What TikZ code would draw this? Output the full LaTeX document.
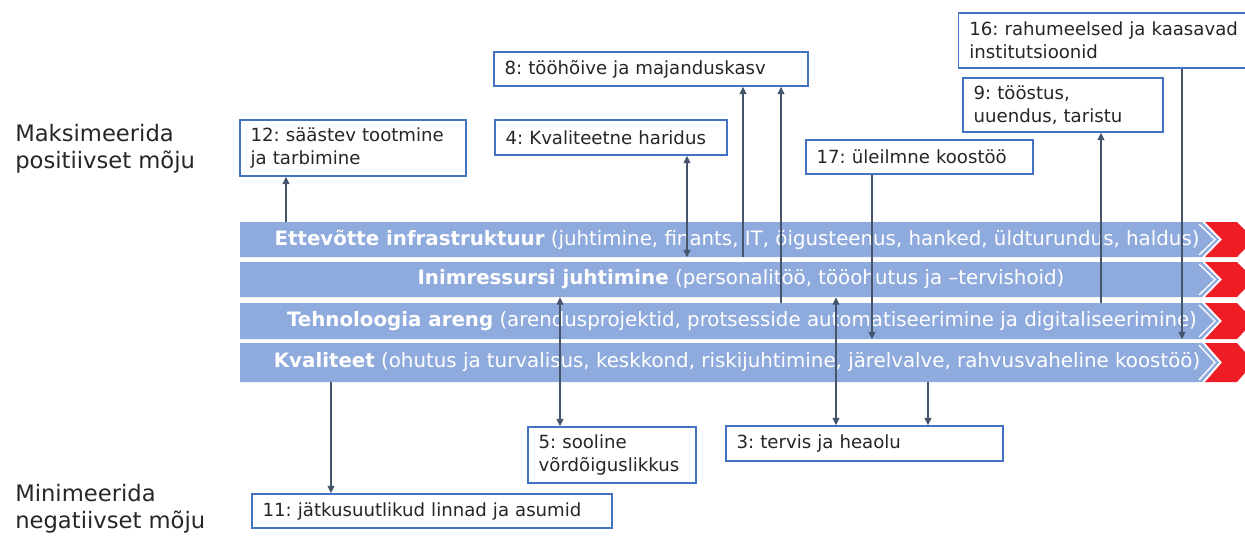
\documentclass[tikz,border=0pt]{standalone}
\usepackage{fontspec}
\setmainfont{DejaVu Sans}
\usetikzlibrary{arrows.meta}
\definecolor{barblue}{HTML}{8FAADC}
\definecolor{chevred}{HTML}{EE1C25}
\definecolor{boxblue}{HTML}{4472C4}
\definecolor{arrowgray}{HTML}{44546A}
\definecolor{textgray}{HTML}{262626}
\frenchspacing
\tikzset{
  goalbox/.style={draw=boxblue, line width=1.1pt, fill=white, text=textgray,
    inner xsep=8pt, inner ysep=0pt, align=left, anchor=center,
    font=\fontsize{13.6}{17}\selectfont},
  bartext/.style={inner sep=0pt, text=white, minimum height=#1,
    font=\fontsize{14.85}{17}\selectfont},
  sidelabel/.style={anchor=west, align=left, inner sep=0pt, text=textgray,
    font=\fontsize{17}{20}\selectfont},
  link/.style={draw=arrowgray, line width=1.1pt, -{Triangle[length=5.5pt,width=5pt]}},
  twoway/.style={draw=arrowgray, line width=1.1pt, {Triangle[length=5.5pt,width=5pt]}-{Triangle[length=5.5pt,width=5pt]}}
}
% one value-chain bar: top, bottom (px)
\newcommand{\chainbar}[2]{%
  \fill[barblue] (240,#1) -- (1202,#1) -- (1219,{(#1+#2)/2}) -- (1202,#2) -- (240,#2) -- cycle;
  \fill[chevred] (1205,#1) -- (1237,#1) -- (1254,{(#1+#2)/2}) -- (1237,#2) -- (1205,#2) -- (1222,{(#1+#2)/2}) -- cycle;
  \draw[white, line width=1pt] (1199,#1+2) -- (1215,{(#1+#2)/2}) -- (1199,#2-2);
}
\begin{document}
\begin{tikzpicture}[x=0.75pt,y=-0.75pt]
\useasboundingbox (0,0) rectangle (1245,536);
\begin{scope}
\clip (0,0) rectangle (1245,536);

% value-chain bars
\chainbar{222}{257}
\chainbar{262}{297}
\chainbar{303}{339}
\chainbar{343}{382}
\end{scope}

\node[bartext=26.25pt] (bar1) at (737,239.5) {\textbf{Ettevõtte infrastruktuur} (juhtimine, finants, IT, õigusteenus, hanked, üldturundus, haldus)};
\node[bartext=26.25pt] (bar2) at (741,279.5) {\textbf{Inimressursi juhtimine} (personalitöö, tööohutus ja –tervishoid)};
\node[bartext=27pt] (bar3) at (742,321) {\textbf{Tehnoloogia areng} (arendusprojektid, protsesside automatiseerimine ja digitaliseerimine)};
\node[bartext=29.25pt] (bar4) at (737,362.5) {\textbf{Kvaliteet} (ohutus ja turvalisus, keskkond, riskijuhtimine, järelvalve, rahvusvaheline koostöö)};

% side labels
\node[sidelabel] (maxlab) at (15,149) {Maksimeerida\\positiivset mõju};
\node[sidelabel] (minlab) at (15,509) {Minimeerida\\negatiivset mõju};

% goal boxes
\node[goalbox, text width=153.5pt, minimum height=42pt] (g12) at (353,148) {12: säästev tootmine\\ja tarbimine};
\node[goalbox, text width=158pt, minimum height=26.25pt] (g4) at (611,137.5) {4: Kvaliteetne haridus};
\node[goalbox, text width=219.5pt, minimum height=25.5pt] (g8) at (651,69) {8: tööhõive ja majanduskasv};
\node[goalbox, text width=154.25pt, minimum height=25.5pt] (g17) at (919.5,157) {17: üleilmne koostöö};
\node[goalbox, anchor=west, text width=212pt, minimum height=41.25pt] (g16) at (958,40.5) {16: rahumeelsed ja kaasavad\\institutsioonid};
\node[goalbox, text width=134pt, minimum height=40.5pt] (g9) at (1063,105) {9: tööstus,\\uuendus, taristu};
\node[goalbox, text width=110pt, minimum height=42pt] (g5) at (612,455) {5: sooline\\võrdõiguslikkus};
\node[goalbox, text width=254pt, minimum height=25.5pt] (g11) at (432,511) {11: jätkusuutlikud linnad ja asumid};
\node[goalbox, text width=191.75pt, minimum height=26.25pt] (g3) at (864.5,443.5) {3: tervis ja heaolu};

% connector columns
\coordinate (c1) at (286,0);
\coordinate (c2) at (687,0);
\coordinate (c3) at (743,0);
\coordinate (c4) at (781,0);
\coordinate (c5) at (872,0);
\coordinate (c6) at (1101,0);
\coordinate (c7) at (1182,0);
\coordinate (c8) at (560,0);
\coordinate (c9) at (836,0);
\coordinate (c10) at (928,0);
\coordinate (c11) at (331,0);

% connectors
\draw[link] (bar1.north -| c1) -- (g12.south -| c1);
\draw[twoway] (g4.south -| c2) -- (bar1.south -| c2);
\draw[link] (bar1.south -| c3) -- (g8.south -| c3);
\draw[link] (bar3.north -| c4) -- (g8.south -| c4);
\draw[link] (g17.south -| c5) -- (bar3.south -| c5);
\draw[link] (bar3.north -| c6) -- (g9.south -| c6);
\draw[link] (g16.south -| c7) -- (bar3.south -| c7);
\draw[twoway] (bar2.south -| c8) -- (g5.north -| c8);
\draw[twoway] (bar2.south -| c9) -- (g3.north -| c9);
\draw[link] (bar4.south -| c10) -- (g3.north -| c10);
\draw[link] (bar4.south -| c11) -- (g11.north -| c11);
\end{tikzpicture}
\end{document}
